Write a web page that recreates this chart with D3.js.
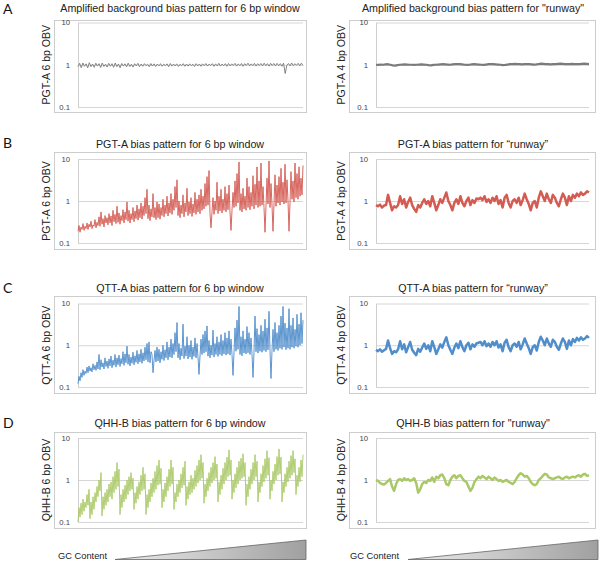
<!DOCTYPE html>
<html><head><meta charset="utf-8">
<script src="https://cdn.jsdelivr.net/npm/d3@7/dist/d3.min.js"></script>
<style>body{margin:0;background:#fff}</style>
</head><body><svg id="c" width="600" height="562"></svg>
<script>
// ---------- text ----------
const panelLetters = ["A", "B", "C", "D"];
const leftTitles = [
  "Amplified background bias pattern for 6 bp window",
  "PGT-A bias pattern for 6 bp window",
  "QTT-A bias pattern for 6 bp window",
  "QHH-B bias pattern for 6 bp window"
];
const rightTitles = [
  "Amplified background bias pattern for \"runway\"",
  "PGT-A bias pattern for \u201Crunway\u201D",
  "QTT-A bias pattern for \u201Crunway\u201D",
  "QHH-B bias pattern for \"runway\""
];
const leftYLabels = ["PGT-A 6 bp OBV", "PGT-A 6 bp OBV", "QTT-A 6 bp OBV", "QHH-B 6 bp OBV"];
const rightYLabels = ["PGT-A 4 bp OBV", "PGT-A 4 bp OBV", "QTT-A 4 bp OBV", "QHH-B 4 bp OBV"];
const xAxisLabel = "GC Content";
const tickValues = [0.1, 1, 10];
const tickLabels = ["0.1", "1", "10"];

// ---------- series values (OBV) ----------
const bgWindow6 = [
  0.9,1.08,0.85,1.1,0.92,1.05,0.84,1.12,0.9,1.04,0.87,1.09,0.93,1.06,0.86,1.1,0.91,1.03,0.88,1.08,
  0.92,1.06,0.87,1.1,0.9,1.04,0.85,1.07,0.93,1.05,0.89,1.09,0.91,1.03,0.88,1.06,0.94,1.08,0.9,1.04,
  0.92,1.06,0.95,1.03,0.9,1.07,0.93,1.05,0.91,1.04,0.94,1.06,0.92,1.03,0.95,1.05,0.9,1.07,0.93,1.04,
  0.94,1.05,0.91,1.03,0.95,1.06,0.92,1.04,0.93,1.05,0.95,1.03,0.91,1.06,0.94,1.04,0.92,1.05,0.95,1.07,
  0.93,1.04,0.96,1.06,0.92,1.05,0.94,1.08,0.93,1.04,0.95,1.06,0.92,1.07,0.94,1.05,0.96,1.08,0.93,1.05,
  0.95,1.07,0.92,1.06,0.96,1.09,0.94,1.05,0.95,1.08,0.93,1.06,0.96,1.07,0.94,1.09,0.95,1.06,0.93,1.08,
  0.96,1.07,0.94,1.08,0.95,1.06,0.92,1.09,0.62,0.96,1.07,0.94,1.1,0.95,1.06,0.97,1.08,0.94,1.09,0.96
];
const bgRunway = [1.0,0.99,1.01,1.0,1.02,1.03,1.0,0.97,0.95,0.98,1.0,1.01,1.02,1.01,1.0,1.0,0.99,1.0,1.01,1.02,1.01,1.0,0.98,0.97,0.99,1.0,1.01,1.02,1.03,1.02,1.01,1.0,1.02,1.03,1.04,1.03,1.02,1.0,0.99,1.0,1.02,1.03,1.02,1.01,1.0,0.99,1.01,1.03,1.04,1.03,1.02,1.01,1.0,0.98,0.99,1.01,1.03,1.04,1.05,1.04,1.03,1.02,1.03,1.04,1.03,1.02,1.01,1.02,1.04,1.06,1.05,1.04,1.03,1.02,1.03,1.04,1.05,1.06,1.05,1.04,1.03,1.04,1.05,1.04,1.03,1.04,1.05,1.06,1.05,1.04];

const pgtWindow6 = [
  0.19,0.26,0.18,0.24,0.21,0.29,0.2,0.25,0.22,0.3,
  0.21,0.28,0.24,0.33,0.22,0.27,0.25,0.36,0.23,0.31,
  0.26,0.42,0.25,0.55,0.28,0.38,0.24,0.45,0.3,0.4,
  0.27,0.5,0.3,0.44,0.26,0.6,0.32,0.48,0.29,0.75,
  0.31,0.52,0.28,0.45,0.34,0.62,0.3,0.55,0.36,0.95,
  0.33,0.6,0.3,0.5,0.36,0.7,0.32,0.58,0.38,0.8,
  0.35,0.65,0.4,0.9,0.37,0.75,0.45,1.2,0.5,1.9,
  0.38,0.8,0.34,0.65,0.42,1.5,0.4,0.7,0.36,0.95,
  0.4,0.85,0.37,0.7,0.45,1.1,0.42,0.8,0.5,1.3,
  0.44,0.9,0.52,1.5,0.48,1.1,0.6,2.2,0.7,3.2,
  0.45,1.0,0.4,0.8,0.5,1.4,0.42,0.9,0.55,2.0,
  0.45,0.95,0.5,1.2,0.43,0.85,0.52,1.6,0.48,1.1,
  0.55,1.4,0.5,1.9,0.6,1.3,0.65,2.6,0.75,3.8,
  0.8,5.3,0.5,0.23,0.55,1.2,0.48,1.0,0.6,2.8,
  0.5,1.3,0.58,1.9,0.52,1.1,0.6,2.2,0.55,1.5,
  0.62,2.4,0.55,0.2,0.6,1.6,0.7,3.0,0.75,4.5,
  0.9,8.5,0.6,1.5,0.55,2.0,0.65,1.3,0.6,3.5,
  0.7,2.2,0.62,1.6,0.75,4.0,0.65,2.5,0.8,6.5,
  0.7,3.0,0.75,8.0,0.8,2.2,0.7,0.18,0.75,3.5,
  0.85,9.0,0.7,2.6,0.8,0.19,0.85,4.2,0.75,2.4,
  0.9,3.8,0.8,6.0,0.95,2.8,0.85,7.5,0.9,3.2,
  1.0,0.19,0.9,5.0,1.1,3.0,0.95,8.0,1.2,4.5,
  1.1,6.5,1.3,3.5,1.4,7.0
];
const pgtRunway = [0.8,0.75,0.82,0.7,0.78,0.8,1.4,0.9,0.6,0.75,0.7,0.8,1.3,0.85,1.1,0.7,0.95,1.2,0.8,0.65,0.55,0.8,0.7,0.9,1.1,0.85,1.0,0.75,1.3,0.9,0.6,0.8,1.1,0.9,1.2,1.6,1.0,0.8,0.6,0.9,1.1,0.85,1.3,0.9,0.75,1.0,1.2,0.8,1.05,0.9,1.15,1.1,1.2,1.05,1.3,0.95,1.1,0.9,1.2,1.0,1.3,0.85,1.05,0.7,1.2,1.4,0.9,0.7,1.0,1.1,0.9,1.2,0.8,1.05,1.5,1.1,0.85,0.6,0.9,1.0,0.7,1.2,1.7,1.3,1.0,1.5,1.1,0.9,1.4,1.2,0.9,0.75,1.1,1.5,1.2,0.8,1.3,1.0,1.4,1.2,1.5,1.3,1.6,1.4,1.5,1.7,1.6];

const qttWindow6 = [
  0.12,0.18,0.14,0.22,0.17,0.26,0.19,0.24,0.21,0.3,
  0.22,0.32,0.24,0.29,0.23,0.36,0.26,0.33,0.25,0.4,
  0.27,0.6,0.26,0.45,0.3,0.38,0.27,0.5,0.31,0.42,
  0.28,0.47,0.32,0.55,0.29,0.44,0.33,0.6,0.3,0.5,
  0.34,0.58,0.31,0.48,0.36,0.7,0.33,0.62,0.38,0.95,
  0.35,0.6,0.32,0.52,0.37,0.68,0.34,0.56,0.39,0.75,
  0.36,0.62,0.4,0.8,0.37,0.66,0.42,0.9,0.45,1.1,
  0.4,1.2,0.38,0.7,0.6,0.22,0.42,0.75,0.4,0.9,
  0.42,0.8,0.38,0.7,0.46,1.0,0.43,0.78,0.5,1.2,
  0.45,0.9,0.52,1.4,0.5,1.1,0.6,2.0,0.7,3.5,
  0.5,1.1,0.45,0.85,0.55,3.2,0.48,0.95,0.55,1.6,
  0.47,1.0,0.52,1.3,0.46,0.9,0.54,1.5,0.5,1.1,
  0.52,0.2,0.55,1.4,0.6,1.8,0.65,2.2,0.7,2.9,
  0.55,1.3,0.5,1.0,0.58,2.3,0.52,1.1,0.6,1.6,
  0.54,1.2,0.6,1.8,0.56,1.3,0.62,2.0,0.58,1.5,
  0.62,2.2,0.58,1.4,0.6,0.19,0.66,2.6,0.72,4.0,
  0.8,8.5,0.6,1.6,0.56,2.2,0.65,1.4,0.62,2.8,
  0.66,2.0,0.6,1.5,0.62,0.17,0.68,5.0,0.7,2.5,
  0.65,1.8,0.72,3.0,0.68,2.2,0.75,4.2,0.7,2.6,
  0.78,6.5,0.72,0.16,0.75,2.4,0.7,3.5,0.8,2.0,
  0.75,3.0,0.85,5.0,0.8,8.5,0.9,3.4,0.78,2.6,
  0.85,7.5,0.8,3.0,0.9,4.5,0.85,2.4,0.95,5.5,
  0.9,3.2,1.0,6.0,1.1,4.0
];
const qttRunway = [0.78,0.72,0.8,0.7,0.76,0.82,1.3,0.85,0.62,0.72,0.68,0.8,1.25,0.8,1.05,0.68,0.9,1.2,0.78,0.66,0.58,0.82,0.7,0.88,1.1,0.82,1.0,0.72,1.25,0.9,0.62,0.8,1.05,0.88,1.2,1.55,1.0,0.78,0.62,0.88,1.1,0.85,1.25,0.9,0.72,1.0,1.15,0.8,1.05,0.92,1.1,1.15,1.2,1.0,1.25,0.95,1.1,0.92,1.2,1.0,1.25,0.88,1.05,0.72,1.15,1.35,0.9,0.72,1.0,1.1,0.92,1.2,0.8,1.05,1.45,1.1,0.85,0.62,0.9,1.0,0.75,1.2,1.6,1.3,1.0,1.45,1.1,0.92,1.35,1.2,0.92,0.78,1.1,1.45,1.2,0.82,1.3,1.0,1.4,1.2,1.5,1.3,1.55,1.35,1.45,1.65,1.5];

const qhhWindow6 = [
  0.1,0.22,0.13,0.28,0.15,0.35,0.18,0.3,0.22,0.45,0.25,0.6,
  0.12,0.3,0.15,0.4,0.2,0.5,0.3,0.7,0.4,1.0,0.55,1.5,
  0.14,0.4,0.2,0.5,0.25,0.6,0.3,0.8,0.4,0.9,
  0.35,1.2,0.5,1.6,0.6,2.6,0.7,1.8,
  0.15,0.45,0.22,0.6,0.3,0.75,0.35,1.0,0.45,1.2,0.55,1.5,0.6,1.1,
  0.2,0.5,0.28,0.7,0.35,0.9,0.45,1.3,0.55,2.0,0.6,1.4,
  0.15,0.45,0.22,0.6,0.3,0.85,0.4,1.1,0.5,1.6,0.6,2.2,0.75,3.0,0.8,1.9,
  0.22,0.6,0.3,0.85,0.4,1.2,0.55,1.8,0.7,3.0,0.8,2.0,
  0.2,0.5,0.3,0.8,0.4,1.0,0.5,1.4,0.65,2.0,0.75,2.8,
  0.25,0.7,0.35,0.9,0.45,1.3,0.5,1.1,0.6,1.7,0.7,2.2,0.85,3.0,1.0,4.0,1.1,2.6,
  0.28,0.8,0.4,1.1,0.55,1.5,0.7,2.0,0.85,2.6,1.0,3.6,1.1,2.4,
  0.3,0.9,0.45,1.3,0.6,1.9,0.8,2.6,1.0,3.5,1.2,5.2,1.3,3.0,
  0.35,1.0,0.5,1.4,0.65,2.0,0.8,2.8,1.0,3.3,1.1,4.2,1.2,2.6,
  0.25,0.8,0.4,1.2,0.6,1.8,0.8,2.6,1.0,4.0,1.2,2.8,
  0.3,0.9,0.5,1.4,0.7,2.2,0.9,3.2,1.1,5.0,1.3,3.4,
  0.35,1.0,0.55,1.6,0.8,2.4,1.0,3.6,1.3,5.5,1.4,3.5,
  0.3,0.9,0.5,1.4,0.7,2.0,0.9,2.8,1.1,3.8,1.3,5.0,1.5,3.2,
  0.45,1.3,0.7,2.0,0.9,3.0,1.2,4.0
];
const qhhRunway = [1.0,0.95,0.85,0.8,0.78,0.85,0.95,1.05,0.7,0.55,0.8,1.0,1.05,0.95,1.1,1.0,1.05,0.95,1.0,1.1,0.85,0.5,0.6,0.8,0.9,0.85,1.0,0.95,1.15,0.9,1.2,1.1,1.3,1.35,1.1,0.8,0.75,1.0,1.2,1.3,1.1,1.25,1.3,1.1,0.95,0.9,0.7,0.55,0.65,0.9,1.05,1.2,1.1,1.25,1.15,1.05,1.2,1.1,1.0,1.15,1.05,0.95,1.0,0.9,0.95,1.0,0.9,0.85,0.8,0.9,1.1,1.3,1.45,1.35,1.2,1.25,1.1,0.9,0.8,0.75,0.8,1.0,1.1,1.25,1.4,1.35,1.15,1.1,1.05,1.1,1.15,1.2,1.1,1.05,1.15,1.2,1.1,1.15,1.2,1.15,1.25,1.3,1.2,1.35,1.4,1.25,1.3];

const leftSeries = [bgWindow6, pgtWindow6, qttWindow6, qhhWindow6];
const rightSeries = [bgRunway, pgtRunway, qttRunway, qhhRunway];
const seriesColors = ["#7b7b7b", "#d45b52", "#4f8dcb", "#a9c967"];

// ---------- layout ----------
const rows = [
  {frameTop: 20, frameBot: 112, y10: 22.5, y01: 107, titleY: 11.5, letterY: 14},
  {frameTop: 152, frameBot: 249, y10: 159, y01: 243, titleY: 148, letterY: 148},
  {frameTop: 296, frameBot: 393, y10: 303.5, y01: 387, titleY: 292, letterY: 293},
  {frameTop: 432, frameBot: 528, y10: 438, y01: 522, titleY: 427, letterY: 428}
];
const cols = [
  {frameL: 54.5, frameR: 306.5, plotL: 78, plotR: 303, tickPad: 8, ylabX: 46, titleX: 180, width: 1},
  {frameL: 349.5, frameR: 595.5, plotL: 376, plotR: 589, tickPad: 8, ylabX: 341, titleX: 473, width: 2.5}
];

const svg = d3.select("#c");
const sans = "'Liberation Sans', Arial, Helvetica, sans-serif";

rows.forEach((r, ri) => {
  svg.append("text").attr("x", 3).attr("y", r.letterY)
    .attr("font-family", "Lato, 'Open Sans', sans-serif").attr("font-size", 14)
    .attr("fill", "#111").text(panelLetters[ri]);

  cols.forEach((c, ci) => {
    const g = svg.append("g");
    const data = ci === 0 ? leftSeries[ri] : rightSeries[ri];
    const y = d3.scaleLog().domain([0.1, 10]).range([r.y01, r.y10]).clamp(true);
    const x = d3.scaleLinear().domain([0, data.length - 1]).range([c.plotL, c.plotR]);

    g.append("rect").attr("x", c.frameL).attr("y", r.frameTop + 0.5)
      .attr("width", c.frameR - c.frameL).attr("height", r.frameBot - r.frameTop)
      .attr("fill", "none").attr("stroke", "#cdcdcd").attr("stroke-width", 1);

    const grid = g.append("g").attr("transform", `translate(${c.plotL},0)`)
      .call(d3.axisRight(y).tickValues(tickValues).tickSize(c.plotR - c.plotL).tickFormat(""));
    grid.select(".domain").remove();
    grid.selectAll("line").attr("stroke", "#d6d6d6");

    const ax = g.append("g").attr("transform", `translate(${c.plotL},0)`)
      .call(d3.axisLeft(y).tickValues(tickValues).tickSize(0).tickSizeOuter(0)
        .tickPadding(c.tickPad).tickFormat((d, i) => tickLabels[i]));
    ax.select(".domain").attr("stroke", "#cfcfcf");
    ax.selectAll("text").attr("font-family", sans).attr("font-size", 7.7).attr("fill", "#444");

    const line = d3.line().x((d, i) => x(i)).y(d => y(d));
    g.append("path").datum(data).attr("d", line)
      .attr("fill", "none").attr("stroke", seriesColors[ri])
      .attr("stroke-width", ri === 0 && ci === 1 ? 2.2 : c.width).attr("stroke-linejoin", "round")
      .attr("stroke-opacity", ci === 0 ? 0.92 : 1);

    g.append("text").attr("x", c.titleX).attr("y", r.titleY).attr("text-anchor", "middle")
      .attr("font-family", sans).attr("font-size", 10.7).attr("fill", "#222")
      .text(ci === 0 ? leftTitles[ri] : rightTitles[ri]);

    g.append("text")
      .attr("transform", `translate(${c.ylabX},${(r.y10 + r.y01) / 2}) rotate(-90)`)
      .attr("text-anchor", "middle").attr("dy", "0.35em")
      .attr("font-family", sans).attr("font-size", 10.5).attr("fill", "#222")
      .text(ci === 0 ? leftYLabels[ri] : rightYLabels[ri]);
  });
});

// GC content wedges
const defs = svg.append("defs");
const grad = defs.append("linearGradient").attr("id", "wedge").attr("x1", "0").attr("x2", "1");
grad.append("stop").attr("offset", "0").attr("stop-color", "#ececec");
grad.append("stop").attr("offset", "1").attr("stop-color", "#a0a0a0");
const wedges = [
  {textX: 58, x0: 115, x1: 306},
  {textX: 350, x0: 408, x1: 598}
];
wedges.forEach(w => {
  svg.append("text").attr("x", w.textX).attr("y", 559)
    .attr("font-family", sans).attr("font-size", 9.3).attr("fill", "#222").text(xAxisLabel);
  svg.append("path")
    .attr("d", `M${w.x0},559.5 L${w.x1},540 L${w.x1},559.5 Z`)
    .attr("fill", "url(#wedge)").attr("stroke", "#666").attr("stroke-width", 0.8);
});
</script>
</body></html>
